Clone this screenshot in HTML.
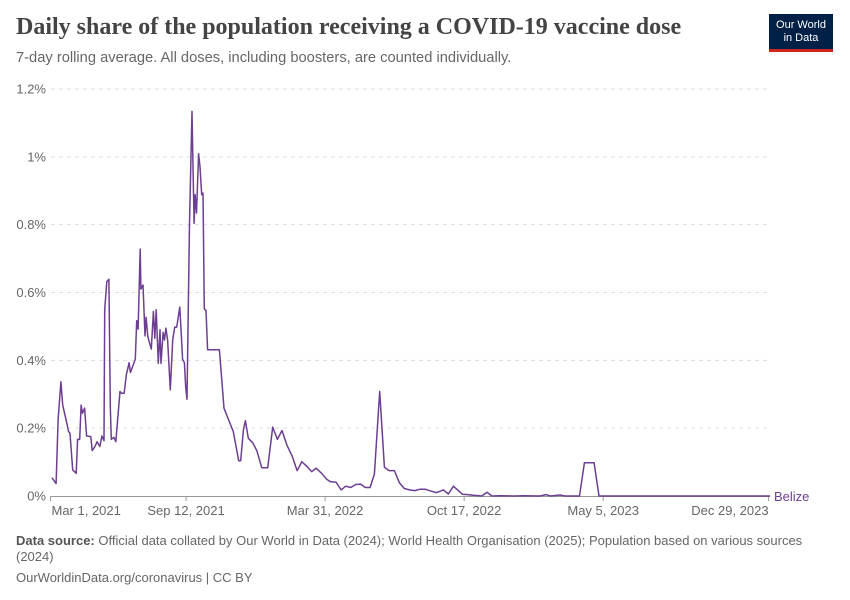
<!DOCTYPE html>
<html><head><meta charset="utf-8"><style>
body{margin:0;width:850px;height:600px;background:#fff;font-family:"Liberation Sans",sans-serif;position:relative;overflow:hidden}
.t{position:absolute;white-space:nowrap}
</style></head><body>
<div class="t" style="left:16px;top:14px;font-family:'Liberation Serif',serif;font-size:24px;color:#444;font-weight:bold">Daily share of the population receiving a COVID-19 vaccine dose</div>
<div class="t" style="left:16px;top:50px;font-size:14.7px;color:#666">7-day rolling average. All doses, including boosters, are counted individually.</div>
<div style="position:absolute;left:769px;top:14px;width:64px;height:38px;background:#002147;border-bottom:3px solid #ce261e;box-sizing:border-box;color:#fff;font-size:11px;line-height:13px;text-align:center;padding-top:5px">Our World<br>in Data</div>
<svg id="chart" width="850" height="600" style="position:absolute;left:0;top:0"></svg>
<div class="t" style="left:16px;top:533px;font-size:13px;color:#666;white-space:normal;width:790px;line-height:16px"><b style="color:#555">Data source:</b> Official data collated by Our World in Data (2024); World Health Organisation (2025); Population based on various sources (2024)</div>
<div class="t" style="left:16px;top:570px;font-size:13px;color:#666">OurWorldinData.org/coronavirus | CC BY</div>
<script>
const days=[2,8,11,15,17.5,23,26,28,32,37,39,42,44,46,49,52,58,60,64,67,71,74,77,78,81,84,86,87.5,91,94,100,102,106,109,113,115,122,124,126,129,130,133,136,137.5,140,142,145,148,150,152,155,157.5,159,162,164,166,168.5,172.4,175.8,178.7,181.5,186,190,192.6,194.5,196.4,200,203.6,205,206.5,208,210,213,215,217.5,219.4,221.3,223.7,226,243,249.6,263,270.7,273.6,277.5,280.3,284.6,291,296.7,304,312.5,319.7,326.4,333,340,348,354.7,359,361.4,368.6,375.8,382,390,397.4,403,410.7,418,424.7,431.9,439,445.8,452.9,459.7,466,473.6,480.3,487,494.7,501.9,509,516.3,524.4,531.7,538.8,548.4,555.6,565.2,572.4,579.6,592.6,599.8,608.4,620.4,628,634.8,646.8,666,680,704,713,718.7,733,740,761,768,782,789,1035];
const values=[.054,.037,.224,.337,.268,.219,.190,.185,.077,.067,.167,.167,.268,.244,.259,.177,.175,.134,.146,.160,.146,.177,.163,.549,.632,.639,.264,.167,.173,.160,.308,.303,.303,.357,.393,.364,.403,.517,.492,.728,.610,.622,.472,.527,.470,.455,.433,.544,.465,.549,.391,.490,.391,.482,.460,.495,.460,.313,.460,.498,.498,.557,.403,.393,.321,.285,.804,1.134,.971,.804,.888,.834,1.009,.971,.888,.893,.551,.547,.431,.431,.259,.190,.104,.104,.195,.222,.170,.157,.134,.083,.083,.203,.167,.193,.150,.116,.075,.091,.101,.088,.072,.082,.067,.049,.042,.041,.018,.029,.025,.034,.035,.025,.025,.065,.308,.085,.075,.075,.039,.022,.018,.016,.020,.020,.014,.010,.018,.006,.029,.005,.004,.002,0,.011,0,.001,0,.001,0,.004,0,.003,0,0,.098,.098,0,0];
const yTicks=[0,0.2,0.4,0.6,0.8,1,1.2];
const yTickLabels=["0%","0.2%","0.4%","0.6%","0.8%","1%","1.2%"];
const xTicks=[0,195,395,595,795,1033];
const xTickLabels=["Mar 1, 2021","Sep 12, 2021","Mar 31, 2022","Oct 17, 2022","May 5, 2023","Dec 29, 2023"];
const svg=document.getElementById('chart');const NS='http://www.w3.org/2000/svg';
const X=d=>50.5+d*(719.5/1035);const Y=v=>496-v*(407/1.2);
function mk(t,a){const e=document.createElementNS(NS,t);for(const k in a)e.setAttribute(k,a[k]);svg.appendChild(e);return e;}
yTicks.forEach((v,i)=>{
 if(v>0){const g=mk('line',{x1:51,x2:770,y1:Y(v),y2:Y(v),stroke:'#ddd','stroke-dasharray':'4,4'});
 
 }
 const t=mk('text',{x:46,y:Y(v)+4.5,'text-anchor':'end','font-size':13,fill:'#666','font-family':'Liberation Sans,sans-serif'});t.textContent=yTickLabels[i];
 
 
});
const ax=mk('line',{x1:51,x2:770,y1:496.5,y2:496.5,stroke:'#999'});


xTicks.forEach((d,i)=>{
 const tk=mk('line',{x1:X(d),x2:X(d),y1:496,y2:501,stroke:'#999'});
 
 
 const anchor=i==0?'start':(i==xTicks.length-1?'end':'middle');
 const t=mk('text',{x:X(d)+(i==0?1:0),y:515,'text-anchor':anchor,'font-size':13,fill:'#666','font-family':'Liberation Sans,sans-serif'});t.textContent=xTickLabels[i];
 
 
});
const p=mk('path',{d:days.map((d,i)=>(i?'L':'M')+X(d).toFixed(1)+','+Y(values[i]).toFixed(1)).join(''),fill:'none',stroke:'#6d3e91','stroke-width':1.5,'stroke-linejoin':'round'});


const lb=mk('text',{x:774,y:501,'font-size':13,fill:'#6d3e91','font-family':'Liberation Sans,sans-serif'});lb.textContent='Belize';


</script>
</body></html>
